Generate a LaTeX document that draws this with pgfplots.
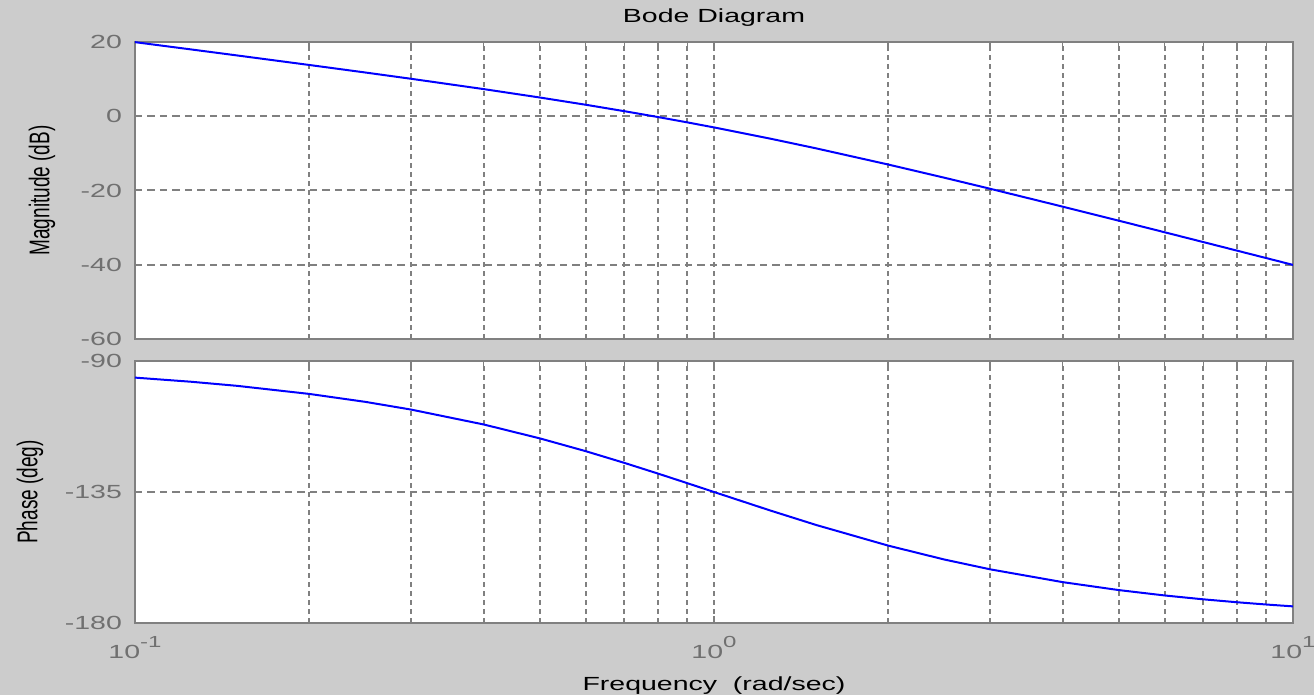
\documentclass[border=0pt]{standalone}
\usepackage{fontspec}
\setmainfont{Liberation Sans}
\usepackage{graphicx}
\usepackage{pgfplots}
\pgfplotsset{compat=1.18}
\definecolor{bggray}{HTML}{CCCCCC}
\definecolor{axgray}{HTML}{808080}
\definecolor{lblgray}{HTML}{707070}
\newcommand{\wx}[1]{\scalebox{1.5}[1]{#1}}
\newcommand{\wy}[1]{\scalebox{1}[1.5]{#1}}
\newcommand{\tenexp}[1]{\wx{10\raisebox{0.6em}{\fontsize{8}{8}\selectfont #1}}}
\begin{document}
\begin{tikzpicture}
\useasboundingbox (0,0) rectangle (657pt,347.5pt);
\fill[bggray] (0,0) rectangle (657pt,347.5pt);
% Magnitude
\begin{axis}[
  xmode=log,
  scale only axis,
  width=579pt, height=148.5pt,
  at={(67.5pt,178pt)}, anchor=south west,
  xmin=0.1, xmax=10,
  xtick={0.1,1,10},
  xticklabels={},
  ymin=-60, ymax=20,
  ytick={-60,-40,-20,0,20},
  yticklabels={\wx{-60},\wx{-40},\wx{-20},\wx{0},\wx{20}},
  axis background/.style={fill=white},
  axis line style={draw=axgray, line width=0.9pt},
  font=\fontsize{9.5}{11}\selectfont,
  every tick label/.append style={text=lblgray},
  tick style={draw=axgray, line width=0.8pt},
  major tick length=3.5pt,
  minor tick length=2.5pt,
  tick align=inside,
  xmajorgrids=true, xminorgrids=true, ymajorgrids=true,
  major x grid style={draw=axgray, line width=1pt, dash pattern=on 2.5pt off 2pt},
  minor x grid style={draw=axgray, line width=1pt, dash pattern=on 2.5pt off 2pt},
  major y grid style={draw=axgray, line width=1pt, dash pattern=on 3.75pt off 2.5pt},
  yticklabel style={anchor=east, xshift=-3pt},
  title={\wx{Bode Diagram}},
  every axis title/.style={at={(axis description cs:0.5,1)}, anchor=center, yshift=12pt},
  ylabel={\wy{Magnitude (dB)}},
  every axis y label/.style={at={(axis description cs:-0.0803,0.5)}, anchor=center, rotate=90},
]
\addplot[blue, line width=1pt] coordinates {
(0.1,19.957) (0.125,17.995) (0.15,16.382) (0.2,13.809) (0.25,11.778)
(0.3,10.083) (0.4,7.314) (0.5,5.051) (0.6,3.101) (0.7,1.366)
(0.8,-0.210) (0.9,-1.662) (1,-3.010) (1.25,-6.025) (1.5,-8.641)
(2,-13.010) (2.5,-16.562) (3,-19.542) (4,-24.346) (5,-28.129)
(6,-31.245) (7,-33.892) (8,-36.191) (9,-38.223) (10,-40.043)
};
\end{axis}
% Phase
\begin{axis}[
  xmode=log,
  scale only axis,
  width=579pt, height=131pt,
  at={(67.5pt,36pt)}, anchor=south west,
  xmin=0.1, xmax=10,
  xtick={0.1,1,10},
  xticklabels={\tenexp{-1},\tenexp{0},\tenexp{1}},
  xticklabel style={anchor=north, yshift=-3pt},
  ymin=-180, ymax=-90,
  ytick={-180,-135,-90},
  yticklabels={\wx{-180},\wx{-135},\wx{-90}},
  axis background/.style={fill=white},
  axis line style={draw=axgray, line width=0.9pt},
  font=\fontsize{9.5}{11}\selectfont,
  every tick label/.append style={text=lblgray},
  tick style={draw=axgray, line width=0.8pt},
  major tick length=3.5pt,
  minor tick length=2.5pt,
  tick align=inside,
  xmajorgrids=true, xminorgrids=true, ymajorgrids=true,
  major x grid style={draw=axgray, line width=1pt, dash pattern=on 2.5pt off 2pt},
  minor x grid style={draw=axgray, line width=1pt, dash pattern=on 2.5pt off 2pt},
  major y grid style={draw=axgray, line width=1pt, dash pattern=on 3.75pt off 2.5pt},
  yticklabel style={anchor=east, xshift=-3pt},
  ylabel={\wy{Phase (deg)}},
  every axis y label/.style={at={(axis description cs:-0.0907,0.5)}, anchor=center, rotate=90},
  xlabel={\wx{Frequency\ \ (rad/sec)}},
  every axis x label/.style={at={(axis description cs:0.5,0)}, anchor=base, yshift=-34pt},
]
\addplot[blue, line width=1pt] coordinates {
(0.1,-95.71) (0.125,-97.13) (0.15,-98.53) (0.2,-101.31) (0.25,-104.04)
(0.3,-106.70) (0.4,-111.80) (0.5,-116.57) (0.6,-120.96) (0.7,-124.99)
(0.8,-128.66) (0.9,-131.99) (1,-135.00) (1.25,-141.34) (1.5,-146.31)
(2,-153.43) (2.5,-158.20) (3,-161.57) (4,-165.96) (5,-168.69)
(6,-170.54) (7,-171.87) (8,-172.87) (9,-173.66) (10,-174.29)
};
\end{axis}
\end{tikzpicture}
\end{document}
